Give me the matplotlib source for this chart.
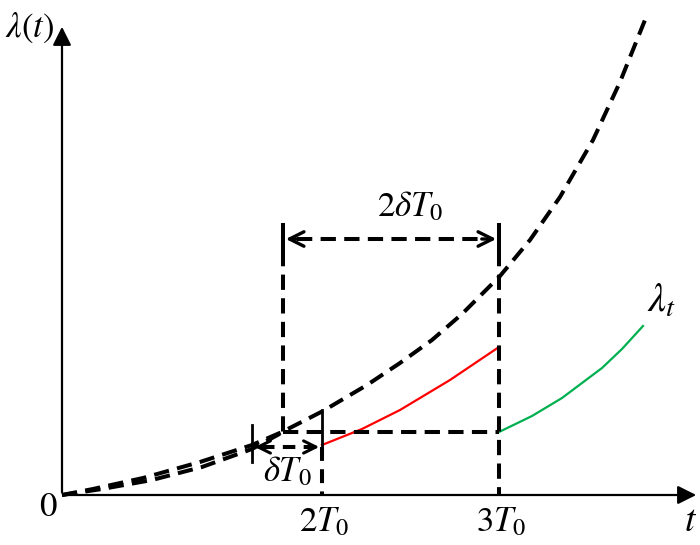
import matplotlib
matplotlib.use("Agg")
from matplotlib import pyplot as plt

plt.rcParams['mathtext.fontset'] = 'stix'
plt.rcParams['font.family'] = 'Liberation Serif'
plt.rcParams['lines.scale_dashes'] = False

# curve data (t, lambda), origin at the axes corner
main_t = [0, 31, 81, 138, 190, 220, 261, 305, 338, 370, 400, 438, 468, 498, 531, 558, 585]
main_l = [0, 6, 17, 33, 50, 63, 84, 110, 132, 155, 181, 219, 255, 298, 355, 413, 480]

shift_t = [0, 40, 90, 140, 190, 221]
shift_l = [0, 6, 15, 28, 46, 63]

red_t = [260, 300, 338, 388, 437]
red_l = [50, 66, 85, 115, 148]

green_t = [437, 470, 500, 540, 560, 581]
green_l = [63, 79, 97, 127, 146, 169]

# marker positions
t_2T0 = 260
t_3T0 = 437
t_left = 221
t_small = 190
lam_top = 256
lam_mid = 63
lam_small = 48

DASH = (11, 6)
LW = 2.9
FS = 25

fig = plt.figure(figsize=(7, 5.45), dpi=100)
ax = fig.add_axes([0, 0, 1, 1])
ax.set_xlim(-62, 638)
ax.set_ylim(-50, 495)
ax.axis('off')

# axes with arrows
ax.annotate('', xy=(637, 0), xytext=(0, 0),
            arrowprops=dict(arrowstyle='-|>', lw=1.6, color='k', mutation_scale=28))
ax.annotate('', xy=(0, 471), xytext=(0, 0),
            arrowprops=dict(arrowstyle='-|>', lw=1.6, color='k', mutation_scale=28))

# curves
ax.plot(main_t, main_l, color='k', lw=LW, dashes=DASH)
ax.plot(shift_t, shift_l, color='k', lw=LW, dashes=DASH)
ax.plot(red_t, red_l, color='red', lw=1.6)
ax.plot(green_t, green_l, color='#00b050', lw=1.6)

# 2 delta T0 box
ax.plot([t_left, t_left], [lam_top - 12, lam_mid], color='k', lw=LW, dashes=DASH)
ax.plot([t_3T0, t_3T0], [lam_top - 12, 0], color='k', lw=LW, dashes=DASH)
ax.plot([t_left, t_left], [lam_top - 10, lam_top + 14], color='k', lw=LW)
ax.plot([t_3T0, t_3T0], [lam_top - 10, lam_top + 14], color='k', lw=LW)
ax.plot([t_left + 14, t_3T0 - 14], [lam_top, lam_top], color='k', lw=LW, dashes=DASH)
ax.annotate('', xy=(t_left, lam_top), xytext=(t_left + 20, lam_top),
            arrowprops=dict(arrowstyle='->', lw=2.4, color='k', mutation_scale=26))
ax.annotate('', xy=(t_3T0, lam_top), xytext=(t_3T0 - 20, lam_top),
            arrowprops=dict(arrowstyle='->', lw=2.4, color='k', mutation_scale=26))
ax.plot([t_left, t_3T0], [lam_mid, lam_mid], color='k', lw=LW, dashes=DASH)

# delta T0 arrow
ax.plot([t_small, t_small], [33, 70], color='k', lw=2.0)
ax.plot([t_2T0, t_2T0], [lam_small, 85], color='k', lw=2.0)
ax.plot([t_2T0, t_2T0], [lam_small, 0], color='k', lw=LW, dashes=(10, 6))
ax.plot([t_small + 10, t_2T0 - 10], [lam_small, lam_small], color='k', lw=LW, dashes=(9, 6))
ax.annotate('', xy=(t_small, lam_small), xytext=(t_small + 16, lam_small),
            arrowprops=dict(arrowstyle='->', lw=2.2, color='k', mutation_scale=22))
ax.annotate('', xy=(t_2T0, lam_small), xytext=(t_2T0 - 16, lam_small),
            arrowprops=dict(arrowstyle='->', lw=2.2, color='k', mutation_scale=22))

# labels
ax.text(-32, 467, r'$\lambda(t)$', fontsize=FS, ha='center', va='center')
ax.text(-14, -12, r'$0$', fontsize=FS, ha='center', va='center')
ax.text(t_2T0 + 2, -28, r'$2T_0$', fontsize=FS, ha='center', va='center')
ax.text(t_3T0 + 2, -28, r'$3T_0$', fontsize=FS, ha='center', va='center')
ax.text(629, -27, r'$t$', fontsize=FS + 2, ha='center', va='center')
ax.text(225, 23, r'$\delta T_0$', fontsize=FS, ha='center', va='center')
ax.text(348, 288, r'$2\delta T_0$', fontsize=FS, ha='center', va='center')
ax.text(600, 193, r'$\lambda_t$', fontsize=FS + 4, ha='center', va='center')

fig.savefig('out.png', dpi=100)
